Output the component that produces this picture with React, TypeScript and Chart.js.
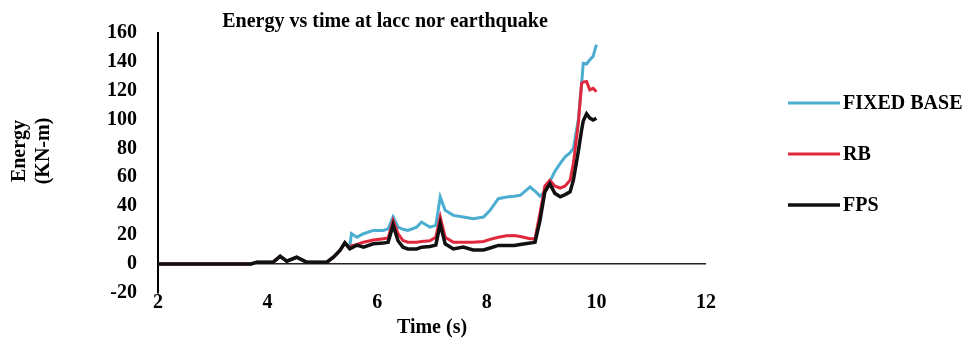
import React, { useEffect, useRef } from "react";
import { Chart, registerables } from "chart.js";

Chart.register(...registerables);

const timeS = [2.0, 3.7, 3.8, 4.1, 4.23, 4.35, 4.53, 4.71, 5.08, 5.2, 5.32, 5.41, 5.5, 5.53, 5.63, 5.75, 5.93, 6.11, 6.2, 6.29, 6.38, 6.47, 6.56, 6.72, 6.81, 6.96, 7.07, 7.15, 7.24, 7.39, 7.57, 7.75, 7.94, 8.06, 8.21, 8.36, 8.5, 8.61, 8.79, 8.88, 8.97, 9.06, 9.15, 9.24, 9.34, 9.43, 9.52, 9.58, 9.67, 9.73, 9.76, 9.82, 9.88, 9.94, 10.0];

const fixedBase = [0, 0, 1.2, 1.2, 5.3, 1.9, 4.6, 1.2, 1.2, 4.6, 9.3, 14.6, 12, 21, 18.5, 20.9, 23.2, 23.2, 24.3, 32.5, 25.5, 24, 23.2, 25.5, 29, 25.5, 26.7, 46.4, 37.1, 33.6, 32.5, 31.3, 32.5, 37.1, 45.2, 46.4, 46.8, 47.5, 53.3, 50.5, 47, 50, 57, 64, 69.6, 74.2, 77, 80, 100, 125, 139, 138.5, 141.4, 143.8, 151.9];

const rb = [0, 0, 1.2, 1.2, 5.3, 1.9, 4.6, 1.2, 1.2, 4.6, 9.3, 14.6, 11, 12.5, 13.5, 15, 16.5, 17.4, 18, 30, 21, 16.2, 15, 15, 15.5, 16, 18.5, 32.5, 18.5, 15, 15, 15, 15.5, 17, 18.5, 19.5, 19.7, 19, 17.4, 17.4, 35, 54, 58, 54, 52.5, 54, 58, 69.6, 97.4, 125.2, 126, 126.4, 120.6, 121.7, 119.4];

const fps = [0, 0, 1.2, 1.2, 5.3, 1.9, 4.6, 1.2, 1.2, 4.6, 9.3, 14.6, 10.4, 11, 13, 11.6, 13.9, 14.4, 15, 27, 16, 11.6, 10.4, 10.4, 11.6, 12, 13, 27.8, 13.9, 10.4, 11.6, 9.7, 9.7, 11, 12.8, 12.8, 12.8, 13.5, 14.4, 15, 30, 50, 55.5, 49, 46.5, 48, 50, 58, 78, 92.8, 99, 104, 101, 99.7, 100.9];

const seriesNames = ["FIXED BASE", "RB", "FPS"];
const seriesColors = ["#4badd0", "#e0283c", "#111111"];
const xTicks = [2, 4, 6, 8, 10, 12];
const yTicks = [-20, 0, 20, 40, 60, 80, 100, 120, 140, 160];

const chartTitle = "Energy vs time at lacc nor earthquake";
const yTitle = ["Energy", "(KN-m)"];
const xTitle = "Time (s)";

const FONT = "'Liberation Serif', 'Times New Roman', serif";

export default function App() {
  const ref = useRef<HTMLCanvasElement | null>(null);

  useEffect(() => {
    document.body.style.margin = "0";
    const canvas = ref.current;
    if (!canvas) return;

    const toPts = (vals: number[]) => timeS.map((t, i) => ({ x: t, y: vals[i] }));
    const allSeries = [fixedBase, rb, fps];
    const widths = [3, 3, 3.5];

    const decor = {
      id: "decor",
      afterDraw(chart: any) {
        const ctx = chart.ctx;
        const area = chart.chartArea;
        ctx.save();
        ctx.fillStyle = "#000";
        // title
        ctx.font = `bold 20px ${FONT}`;
        ctx.textAlign = "center";
        ctx.textBaseline = "alphabetic";
        ctx.fillText(chartTitle, 385, 27);
        // x title
        ctx.textBaseline = "middle";
        ctx.fillText(xTitle, (area.left + area.right) / 2, 328);
        // y title
        ctx.save();
        ctx.translate(0, 151);
        ctx.rotate(-Math.PI / 2);
        ctx.fillText(yTitle[0], 0, 20);
        ctx.fillText(yTitle[1], 0, 44);
        ctx.restore();
        // legend
        const ys = [103, 154, 205];
        chart.data.datasets.forEach((ds: any, i: number) => {
          ctx.strokeStyle = ds.borderColor;
          ctx.lineWidth = ds.borderWidth;
          ctx.beginPath();
          ctx.moveTo(788, ys[i]);
          ctx.lineTo(840, ys[i]);
          ctx.stroke();
          ctx.textAlign = "left";
          ctx.textBaseline = "middle";
          ctx.fillStyle = "#000";
          ctx.fillText(ds.label, 843, ys[i] + 1);
        });
        ctx.restore();
      },
    };

    const chart = new Chart(canvas, {
      type: "line",
      data: {
        datasets: seriesNames.map((name, i) => ({
          label: name,
          data: toPts(allSeries[i]),
          borderColor: seriesColors[i],
          backgroundColor: seriesColors[i],
          borderWidth: widths[i],
          pointRadius: 0,
          tension: 0,
          fill: false,
          order: 3 - i,
        })),
      },
      options: {
        animation: false,
        responsive: false,
        devicePixelRatio: 1,
        layout: { padding: { left: 0, right: 256, top: 30, bottom: 0 } },
        plugins: {
          legend: { display: false },
          title: { display: false },
          tooltip: { enabled: false },
        },
        scales: {
          x: {
            type: "linear",
            min: xTicks[0],
            max: xTicks[xTicks.length - 1],
            afterBuildTicks: (s: any) => {
              s.ticks = xTicks.map((v) => ({ value: v }));
            },
            ticks: {
              color: "#000",
              font: { family: FONT, size: 20, weight: "bold" },
              padding: -2,
              maxRotation: 0,
              autoSkip: false,
            },
            grid: { display: false, drawTicks: false },
            border: { display: false },
            afterFit: (s: any) => {
              s.height = 49.25;
            },
          },
          y: {
            min: yTicks[0],
            max: yTicks[yTicks.length - 1],
            afterBuildTicks: (s: any) => {
              s.ticks = yTicks.map((v) => ({ value: v }));
            },
            ticks: {
              color: "#000",
              font: { family: FONT, size: 20, weight: "bold" },
              padding: 21,
              autoSkip: false,
            },
            grid: {
              drawTicks: false,
              color: (c: any) => (c.tick && c.tick.value === 0 ? "#222" : "rgba(0,0,0,0)"),
              lineWidth: 1.5,
            },
            border: { display: true, color: "#000", width: 2 },
            afterFit: (s: any) => {
              s.width = 158;
            },
          },
        },
      },
      plugins: [decor],
    } as any);

    return () => chart.destroy();
  }, []);

  return (
    <div style={{ width: 962, height: 342, background: "#fff" }}>
      <canvas ref={ref} width={962} height={342} />
    </div>
  );
}
